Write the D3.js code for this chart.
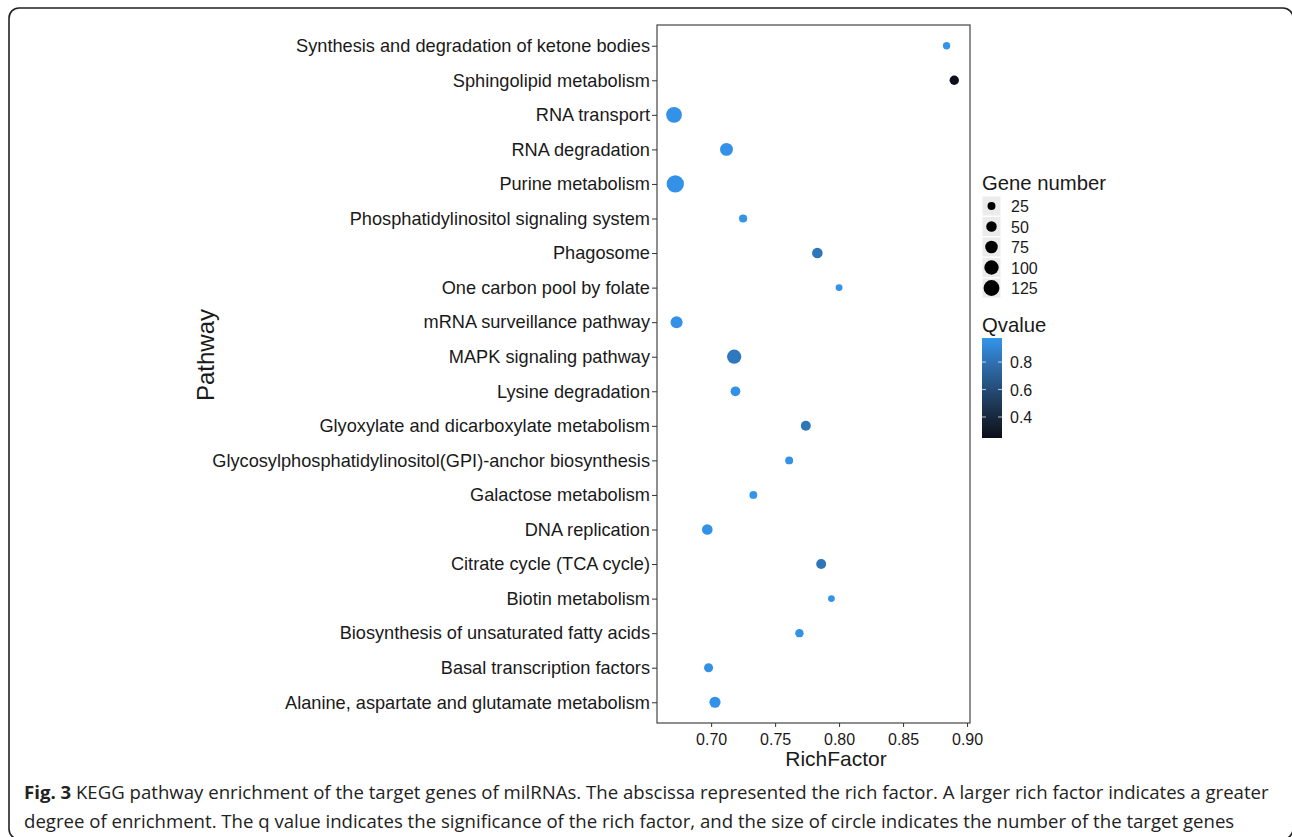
<!DOCTYPE html>
<html lang="en">
<head>
<meta charset="UTF-8">
<title>KEGG pathway enrichment</title>
<script src="https://d3js.org/d3.v7.min.js"></script>
<style>
    body { margin: 0; background: #fff; }
    #chart { display: block; }
    .axis-text { font-family: 'Liberation Sans', Arial, sans-serif; fill: #1a1a1a; }
    .caption { font-family: 'Open Sans', sans-serif; fill: #222; }
</style>
</head>
<body>
<svg id="chart" width="1292" height="837"></svg>
<script>
// pathways, listed top to bottom
const pathways = [
    "Synthesis and degradation of ketone bodies",
    "Sphingolipid metabolism",
    "RNA transport",
    "RNA degradation",
    "Purine metabolism",
    "Phosphatidylinositol signaling system",
    "Phagosome",
    "One carbon pool by folate",
    "mRNA surveillance pathway",
    "MAPK signaling pathway",
    "Lysine degradation",
    "Glyoxylate and dicarboxylate metabolism",
    "Glycosylphosphatidylinositol(GPI)-anchor biosynthesis",
    "Galactose metabolism",
    "DNA replication",
    "Citrate cycle (TCA cycle)",
    "Biotin metabolism",
    "Biosynthesis of unsaturated fatty acids",
    "Basal transcription factors",
    "Alanine, aspartate and glutamate metabolism"
];
const richFactor = [0.884, 0.890, 0.671, 0.712, 0.672, 0.725, 0.783, 0.800, 0.673, 0.718,
                    0.719, 0.774, 0.761, 0.733, 0.697, 0.786, 0.794, 0.769, 0.698, 0.703];
const geneNumber = [20, 38, 124, 80, 150, 27, 51, 17, 68, 100,
                    42, 44, 25, 24, 51, 44, 16, 29, 35, 57];
const qvalue = [0.97, 0.25, 0.96, 0.96, 0.96, 0.97, 0.82, 0.97, 0.96, 0.83,
                0.96, 0.82, 0.96, 0.97, 0.96, 0.82, 0.97, 0.96, 0.96, 0.96];

const xTicks = [0.70, 0.75, 0.80, 0.85, 0.90];
const sizeBreaks = [25, 50, 75, 100, 125];
const qTicks = [0.4, 0.6, 0.8];
const qDomain = [0.247, 0.975];
const xDomain = [0.6577, 0.9023];

const data = pathways.map((p, i) => ({
    pathway: p, rich: richFactor[i], genes: geneNumber[i], q: qvalue[i]
}));

const svg = d3.select("#chart");

// outer figure frame
svg.append("rect")
    .attr("x", 9).attr("y", 8)
    .attr("width", 1284).attr("height", 831)
    .attr("rx", 10)
    .attr("fill", "none")
    .attr("stroke", "#222")
    .attr("stroke-width", 1.6);

const panel = { left: 657, right: 970, top: 25, bottom: 723 };

const x = d3.scaleLinear().domain(xDomain).range([panel.left, panel.right]);
const y = d3.scalePoint().domain(pathways).range([panel.top, panel.bottom]).padding(0.6);

// r^2 grows linearly with gene number
const area = d3.scaleLinear().domain([0, 140]).range([4, 70]);
const radius = n => Math.sqrt(area(n));

const color = d3.scaleLinear()
    .domain(qDomain)
    .range(["#0a0f18", "#3395ec"])
    .interpolate(d3.interpolateLab);

// panel background + border
svg.append("rect")
    .attr("x", panel.left).attr("y", panel.top)
    .attr("width", panel.right - panel.left)
    .attr("height", panel.bottom - panel.top)
    .attr("fill", "#fff")
    .attr("stroke", "#444")
    .attr("stroke-width", 1.2);

// y axis
const yAxis = svg.append("g")
    .attr("transform", `translate(${panel.left},0)`)
    .call(d3.axisLeft(y).tickSize(5).tickPadding(2));
yAxis.select(".domain").remove();
yAxis.selectAll("line").attr("stroke", "#333");
yAxis.selectAll("text")
    .attr("class", "axis-text")
    .attr("font-size", 18.2)
    .attr("fill", "#1a1a1a");

// x axis
const xAxis = svg.append("g")
    .attr("transform", `translate(0,${panel.bottom})`)
    .call(d3.axisBottom(x).tickValues(xTicks).tickFormat(d3.format(".2f")).tickSize(4).tickPadding(7));
xAxis.select(".domain").remove();
xAxis.selectAll("line").attr("stroke", "#333");
xAxis.selectAll("text")
    .attr("class", "axis-text")
    .attr("font-size", 16)
    .attr("fill", "#1a1a1a");

// axis titles
svg.append("text")
    .attr("class", "axis-text")
    .attr("x", 836)
    .attr("y", 766)
    .attr("text-anchor", "middle")
    .attr("font-size", 21)
    .text("RichFactor");

svg.append("text")
    .attr("class", "axis-text")
    .attr("transform", "translate(214,355) rotate(-90)")
    .attr("text-anchor", "middle")
    .attr("font-size", 24)
    .text("Pathway");

// points
svg.append("g")
    .selectAll("circle")
    .data(data)
    .join("circle")
    .attr("cx", d => x(d.rich))
    .attr("cy", d => y(d.pathway))
    .attr("r", d => radius(d.genes))
    .attr("fill", d => color(d.q));

// legend: gene number
const lg = svg.append("g").attr("transform", "translate(982,0)");
lg.append("text")
    .attr("class", "axis-text")
    .attr("x", 0).attr("y", 190)
    .attr("font-size", 20.3)
    .text("Gene number");

const keys = lg.selectAll("g.key")
    .data(sizeBreaks)
    .join("g")
    .attr("class", "key")
    .attr("transform", (d, i) => `translate(0,${196 + i * 20.5})`);
keys.append("rect")
    .attr("width", 19).attr("height", 20)
    .attr("fill", "#ebebeb")
    .attr("stroke", "#fff");
keys.append("circle")
    .attr("cx", 9.5).attr("cy", 10)
    .attr("r", d => radius(d))
    .attr("fill", "#000");
keys.append("text")
    .attr("class", "axis-text")
    .attr("x", 29).attr("y", 16)
    .attr("font-size", 16)
    .text(d => d);

// legend: Qvalue colour bar
lg.append("text")
    .attr("class", "axis-text")
    .attr("x", 0).attr("y", 332)
    .attr("font-size", 20.3)
    .text("Qvalue");

const barTop = 338, barBottom = 438;
const qy = d3.scaleLinear().domain(qDomain).range([barBottom, barTop]);
const grad = svg.append("defs").append("linearGradient")
    .attr("id", "qgrad")
    .attr("x1", 0).attr("y1", 1).attr("x2", 0).attr("y2", 0);
d3.range(0, 1.0001, 0.1).forEach(t => {
    grad.append("stop")
        .attr("offset", t)
        .attr("stop-color", color(qDomain[0] + t * (qDomain[1] - qDomain[0])));
});
lg.append("rect")
    .attr("x", 0).attr("y", barTop)
    .attr("width", 20).attr("height", barBottom - barTop)
    .attr("fill", "url(#qgrad)");

const qt = lg.selectAll("g.qtick")
    .data(qTicks)
    .join("g")
    .attr("class", "qtick")
    .attr("transform", d => `translate(0,${qy(d)})`);
qt.append("line").attr("x1", 0).attr("x2", 4).attr("stroke", "#fff").attr("stroke-opacity", 0.7);
qt.append("line").attr("x1", 16).attr("x2", 20).attr("stroke", "#fff").attr("stroke-opacity", 0.7);
qt.append("text")
    .attr("class", "axis-text")
    .attr("x", 28).attr("y", 6)
    .attr("font-size", 16)
    .text(d => d3.format(".1f")(d));

// caption
const cap1 = svg.append("text").attr("class", "caption").attr("x", 24).attr("y", 799).attr("font-size", 18.6);
cap1.append("tspan").attr("font-weight", "bold").text("Fig. 3");
cap1.append("tspan").text(" KEGG pathway enrichment of the target genes of milRNAs. The abscissa represented the rich factor. A larger rich factor indicates a greater");
svg.append("text").attr("class", "caption").attr("x", 24).attr("y", 828).attr("font-size", 18.6)
    .text("degree of enrichment. The q value indicates the significance of the rich factor, and the size of circle indicates the number of the target genes");
</script>
</body>
</html>
